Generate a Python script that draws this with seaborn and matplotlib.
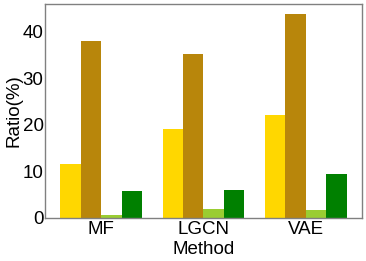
import matplotlib
matplotlib.use("Agg")
import matplotlib.pyplot as plt
import seaborn as sns
import pandas as pd

methods = ["MF", "LGCN", "VAE"]
series = ["S1", "S2", "S3", "S4"]
s1 = [11.6, 19.1, 22.1]
s2 = [38.1, 35.3, 43.9]
s3 = [0.65, 1.9, 1.65]
s4 = [5.8, 6.0, 9.5]
colors = ["#FFD700", "#B8860B", "#9ACD32", "#008000"]

rows = []
for name, vals in zip(series, [s1, s2, s3, s4]):
    for m, v in zip(methods, vals):
        rows.append({"Method": m, "Series": name, "Ratio": v})
df = pd.DataFrame(rows)

sns.set_style("white")
plt.rcParams["font.family"] = ["Liberation Sans", "DejaVu Sans"]
plt.rcParams["text.color"] = "black"
plt.rcParams["axes.labelcolor"] = "black"
plt.rcParams["xtick.color"] = "black"
plt.rcParams["ytick.color"] = "black"

fs = 13.5
fig = plt.figure(figsize=(3.66, 2.61), dpi=100)
ax = fig.add_axes([0.123, 0.165, 0.866, 0.82])
sns.barplot(data=df, x="Method", y="Ratio", hue="Series", palette=colors,
            saturation=1, width=0.8, legend=False, ax=ax, linewidth=0)
ax.set_xlim(-0.55, 2.55)
ax.set_ylim(0, 46)
ax.set_yticks([0, 10, 20, 30, 40])
ax.tick_params(axis="x", length=0, labelsize=fs, pad=2, colors="black")
ax.tick_params(axis="y", length=0, labelsize=fs, pad=1, colors="black")
ax.set_ylabel("Ratio(%)", fontsize=fs, labelpad=0, color="black")
ax.set_xlabel("Method", fontsize=fs, labelpad=2.5, color="black")
for sp in ax.spines.values():
    sp.set_color("#808080")
    sp.set_linewidth(1)
fig.savefig("out.png", dpi=100)
